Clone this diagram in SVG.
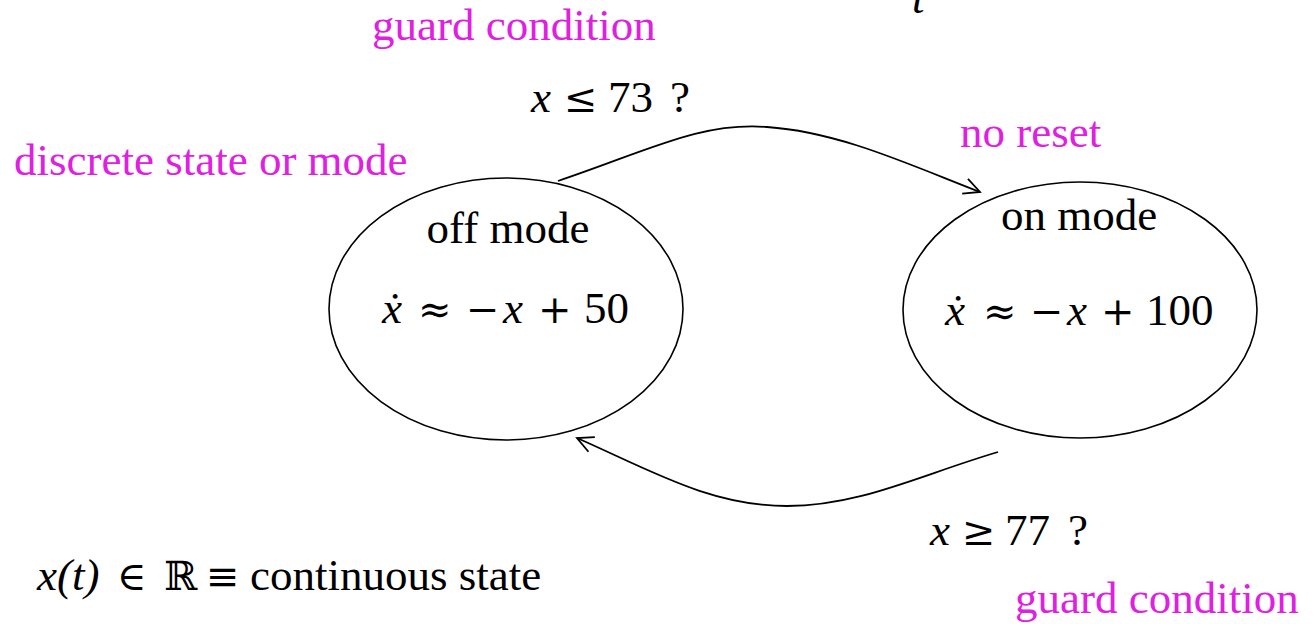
<svg xmlns="http://www.w3.org/2000/svg" width="1316" height="624" viewBox="0 0 1316 624">
<style>
text{font-family:"Liberation Serif","Times New Roman",serif;font-size:45px;fill:#000}
.m{fill:#e020e0}
.i{font-style:italic}
.sym{font-family:"DejaVu Serif","Liberation Serif",serif;font-size:40px}
.node{fill:none;stroke:#000;stroke-width:1.6}
.edge{fill:none;stroke:#000;stroke-width:1.8}
</style>
<defs>
<marker id="ah" viewBox="0 0 20 20" refX="18" refY="10" markerWidth="20" markerHeight="20" markerUnits="userSpaceOnUse" orient="auto">
<path d="M2,2 L18,10 L2,18" fill="none" stroke="#000" stroke-width="1.8"/>
</marker>
</defs>
<rect width="1316" height="624" fill="#fff"/>
<text class="i" x="912" y="13">t</text>
<g id="off">
<ellipse class="node" cx="506" cy="309" rx="177" ry="131"/>
<text x="508" y="243" text-anchor="middle">off mode</text>
<text y="323"><tspan class="i" x="382">x&#x307;</tspan><tspan class="sym" x="418">≈</tspan><tspan class="sym" x="466">−</tspan><tspan class="i" x="503">x</tspan><tspan class="sym" x="538">+</tspan><tspan x="584">50</tspan></text>
</g>
<g id="on">
<ellipse class="node" cx="1080" cy="310" rx="177" ry="128"/>
<text x="1079" y="230" text-anchor="middle">on mode</text>
<text y="325"><tspan class="i" x="945">x&#x307;</tspan><tspan class="sym" x="983">≈</tspan><tspan class="sym" x="1030">−</tspan><tspan class="i" x="1067">x</tspan><tspan class="sym" x="1101">+</tspan><tspan x="1146">100</tspan></text>
</g>
<g id="connectors">
<path class="edge" d="M558,181 C650,150 700,122 767,127 C840,132 910,165 980,192" marker-end="url(#ah)"/>
<path class="edge" d="M998,452 C920,475 860,506 787,506 C710,506 650,470 577,438" marker-end="url(#ah)"/>
</g>
<g id="labels">
<text class="m" x="372" y="40">guard condition</text>
<text y="112"><tspan class="i" x="531">x</tspan><tspan class="sym" x="564">≤</tspan><tspan x="608">73</tspan><tspan x="670">?</tspan></text>
<text class="m" x="14" y="175">discrete state or mode</text>
<text class="m" x="960" y="147">no reset</text>
<text y="545"><tspan class="i" x="930">x</tspan><tspan class="sym" x="962">≥</tspan><tspan x="1005">77</tspan><tspan x="1068">?</tspan></text>
<text y="590"><tspan class="i" x="37">x(t)</tspan><tspan class="sym" x="117">∈</tspan><tspan class="sym" x="164">ℝ</tspan><tspan class="sym" x="206">≡</tspan><tspan x="250">continuous state</tspan></text>
<text class="m" x="1015" y="613">guard condition</text>
</g>
</svg>
